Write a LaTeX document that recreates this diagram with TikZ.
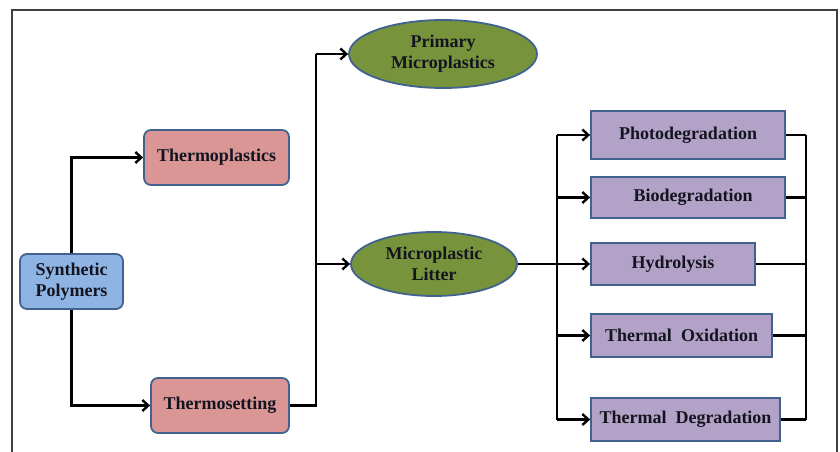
\documentclass[tikz,border=0pt]{standalone}
\usepackage{fontspec}
\setmainfont{Liberation Serif}
\usetikzlibrary{arrows.meta}
\usetikzlibrary{shapes.geometric}

\definecolor{edgeblue}{HTML}{41628F}
\definecolor{polyblue}{HTML}{8EB4E3}
\definecolor{thermred}{HTML}{D99694}
\definecolor{microgreen}{HTML}{77933C}
\definecolor{degpurple}{HTML}{B3A2C7}
\definecolor{inktext}{HTML}{141420}

\tikzset{
	box/.style={draw=edgeblue,line width=1.8pt,inner sep=0pt,align=center,text=inktext,font=\fontsize{18}{21}\selectfont\bfseries},
	polybox/.style={box,rounded corners=7pt,fill=polyblue},
	thermbox/.style={box,rounded corners=7pt,fill=thermred},
	microell/.style={box,ellipse,fill=microgreen},
	degbox/.style={box,fill=degpurple},
	arr/.style={line width=2.4pt,-{Straight Barb[length=6pt,width=11pt,line width=2.4pt]}},
	link/.style={line width=2.4pt}
}

\begin{document}
\begin{tikzpicture}[x=1pt,y=-1pt]
	\useasboundingbox (0,0) rectangle (840,452);
	
	% Outer frame (runs off the bottom edge).
	\draw[line width=1.3pt,color=black!75] (12,460) -- (12,10) -- (837,10) -- (837,460);
	
	% Bus lines x positions.
	\coordinate (jA) at (316,0);       %split after Thermosetting.
	\coordinate (jB) at (557,0);       %split after Microplastic Litter.
	\coordinate (jC) at (806,0);       %join on the right.
	
	% Left column
	\node[polybox,minimum width=103pt,minimum height=55pt] (syn) at (71.5,281.5) {Synthetic\\Polymers};
	\node[thermbox,minimum width=145pt,minimum height=55pt] (tplast) at (216.5,157.5) {Thermoplastics};
	\node[thermbox,minimum width=138pt,minimum height=55pt] (tset) at (220,405.5) {Thermosetting};
	
	% Ellipses
	\node[microell,minimum width=188pt,minimum height=68pt] (prim) at (443,54) {Primary\\Microplastics};
	\node[microell,minimum width=166pt,minimum height=64pt] (litter) at (434,264) {Microplastic\\Litter};
	
	% Degradation boxes
	\node[degbox,minimum width=194pt,minimum height=48pt] (photo) at (688,135) {Photodegradation};
	\node[degbox,minimum width=194pt,minimum height=41pt] (bio) at (688,197.5) {\hspace{10pt}Biodegradation};
	\node[degbox,minimum width=164pt,minimum height=42pt] (hydro) at (673,264) {Hydrolysis};
	\node[degbox,minimum width=181pt,minimum height=43pt] (thox) at (681.5,335.5) {Thermal\ \ Oxidation};
	\node[degbox,minimum width=189pt,minimum height=43pt] (thdeg) at (685.5,419.5) {Thermal\ \ Degradation};
	
	% Connectors
	\draw[arr] (syn.north) |- (tplast.west);
	\draw[arr] (syn.south) |- (tset.west);
	\draw[link] (tset.east) -- (jA |- tset.east) -- (jA |- prim.west);
	\draw[arr] (jA |- prim.west) -- (prim.west);
	\draw[arr] (jA |- litter.west) -- (litter.west);
	\draw[link] (litter.east) -- (jB |- litter.east);
	\draw[link] (jB |- photo.west) -- (jB |- thdeg.west);
	\draw[link] (jC |- photo.east) -- (jC |- thdeg.east);
	\foreach \n in {photo,bio,hydro,thox,thdeg}{
		\draw[arr] (jB |- \n.west) -- (\n.west);
		\draw[link] (\n.east) -- (jC |- \n.east);
	}
	
\end{tikzpicture}
\end{document}
